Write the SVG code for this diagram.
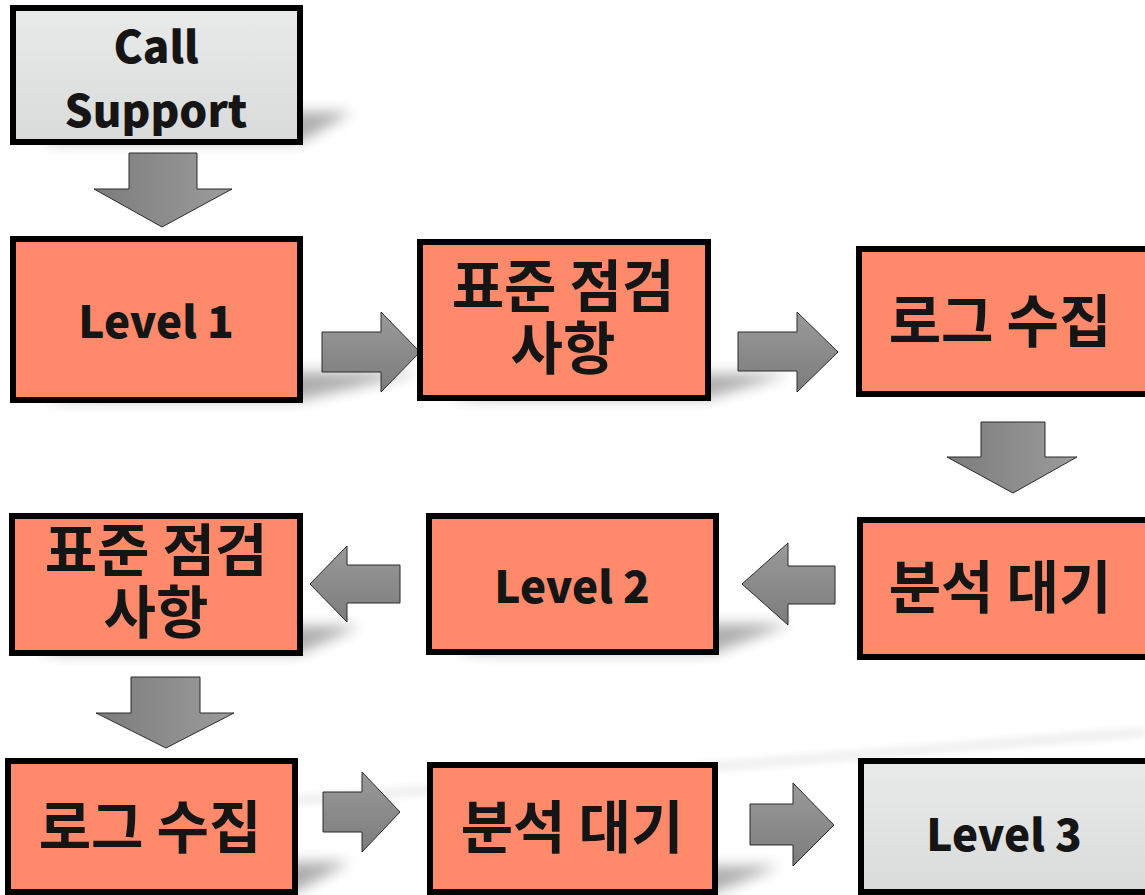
<svg xmlns="http://www.w3.org/2000/svg" width="1145" height="895" viewBox="0 0 1145 895">
  <style>
    .box { stroke: #000; stroke-width: 6; }
    .hot { fill: #FF8A6B; }
    .cool { fill: url(#grayFill); }
    .arrow { stroke: #2b2b2b; stroke-width: 1; stroke-linejoin: miter; }
    .adown { fill: url(#arrowH); }
    .aside { fill: url(#arrowV); }
    .label { font-family: "Noto Sans CJK KR", "Noto Sans", sans-serif; font-weight: 900; fill: #151515; text-anchor: middle; }
    .ko { font-size: 57px; font-weight: 700; }
    .en { font-size: 44px; }
    .shadow { fill: #000; opacity: 0.32; filter: url(#soft); }
  </style>
  <defs>
    <linearGradient id="grayFill" x1="0" y1="0" x2="0" y2="1">
      <stop offset="0" stop-color="#E9EAEA"/>
      <stop offset="1" stop-color="#D9DADA"/>
    </linearGradient>
    <linearGradient id="arrowH" x1="0" y1="0" x2="1" y2="0">
      <stop offset="0" stop-color="#7C7C7C"/>
      <stop offset="1" stop-color="#9C9C9C"/>
    </linearGradient>
    <linearGradient id="arrowV" x1="0" y1="0" x2="0" y2="1">
      <stop offset="0" stop-color="#9A9A9A"/>
      <stop offset="1" stop-color="#7C7C7C"/>
    </linearGradient>
    <filter id="soft" x="-30%" y="-60%" width="160%" height="220%">
      <feGaussianBlur stdDeviation="7"/>
    </filter>
    <filter id="haze" x="-10%" y="-100%" width="120%" height="300%">
      <feGaussianBlur stdDeviation="4"/>
    </filter>
  </defs>

  <!-- perspective shadows cast up and to the right of each box -->
  <g id="shadows">
    <polygon class="shadow" points="40,142 300,142 352,112 92,112"/>
    <polygon class="shadow" points="40,400 300,400 420,372 160,372"/>
    <polygon class="shadow" points="447,398 708,398 790,374 529,374"/>
    <polygon class="shadow" points="40,653 300,653 360,626 100,626"/>
    <polygon class="shadow" points="456,652 716,652 790,624 530,624"/>
    <polygon class="shadow" points="35,892 295,892 350,862 90,862"/>
    <polygon class="shadow" points="457,892 715,892 780,866 520,866"/>
    <line x1="240" y1="805" x2="1145" y2="732" stroke="#000" stroke-width="6" opacity="0.1" filter="url(#haze)"/>
  </g>

  <!-- flow connectors: block arrows -->
  <g id="connectors">
    <polygon class="arrow adown" points="129,153 197,153 197,189 232,189 162,227 94,189 129,189"/>
    <polygon class="arrow aside" points="322,332 381,332 381,312 420,352 381,392 381,372 322,372"/>
    <polygon class="arrow aside" points="738,332 797,332 797,312 838,352 797,392 797,371 738,371"/>
    <polygon class="arrow adown" points="981,422 1045,422 1045,457 1077,457 1013,493 947,457 981,457"/>
    <polygon class="arrow aside" points="835,566 788,566 788,543 742,584 788,625 788,604 835,604"/>
    <polygon class="arrow aside" points="400,565 347,565 347,546 310,584 347,622 347,603 400,603"/>
    <polygon class="arrow adown" points="131,677 200,677 200,713 234,713 166,748 96,713 131,713"/>
    <polygon class="arrow aside" points="323,792 362,792 362,772 400,812 362,852 362,832 323,832"/>
    <polygon class="arrow aside" points="750,804 793,804 793,783 834,825 793,866 793,845 750,845"/>
  </g>

  <g id="call-support">
    <rect class="box cool" x="13" y="8" width="287" height="134"/>
    <text class="label en" x="156" y="63">Call</text>
    <text class="label en" x="156" y="127">Support</text>
  </g>

  <g id="level-1">
    <rect class="box hot" x="13" y="239" width="287" height="161"/>
    <text class="label en" x="156" y="338">Level 1</text>
  </g>

  <g id="std-check-1">
    <rect class="box hot" x="420" y="242" width="288" height="156"/>
    <text class="label ko" x="563" y="307">표준 점검</text>
    <text class="label ko" x="563" y="369">사항</text>
  </g>

  <g id="log-collect-1">
    <rect class="box hot" x="859" y="249" width="300" height="145"/>
    <text class="label ko" x="1000" y="342">로그 수집</text>
  </g>

  <g id="analysis-wait-1">
    <rect class="box hot" x="860" y="520" width="300" height="137"/>
    <text class="label ko" x="1000" y="608">분석 대기</text>
  </g>

  <g id="level-2">
    <rect class="box hot" x="429" y="516" width="287" height="136"/>
    <text class="label en" x="572" y="603">Level 2</text>
  </g>

  <g id="std-check-2">
    <rect class="box hot" x="12" y="516" width="288" height="137"/>
    <text class="label ko" x="156" y="571">표준 점검</text>
    <text class="label ko" x="156" y="633">사항</text>
  </g>

  <g id="log-collect-2">
    <rect class="box hot" x="8" y="761" width="287" height="131"/>
    <text class="label ko" x="150" y="848">로그 수집</text>
  </g>

  <g id="analysis-wait-2">
    <rect class="box hot" x="430" y="765" width="285" height="127"/>
    <text class="label ko" x="572" y="848">분석 대기</text>
  </g>

  <g id="level-3">
    <rect class="box cool" x="861" y="761" width="300" height="131"/>
    <text class="label en" x="1004" y="851">Level 3</text>
  </g>
</svg>
